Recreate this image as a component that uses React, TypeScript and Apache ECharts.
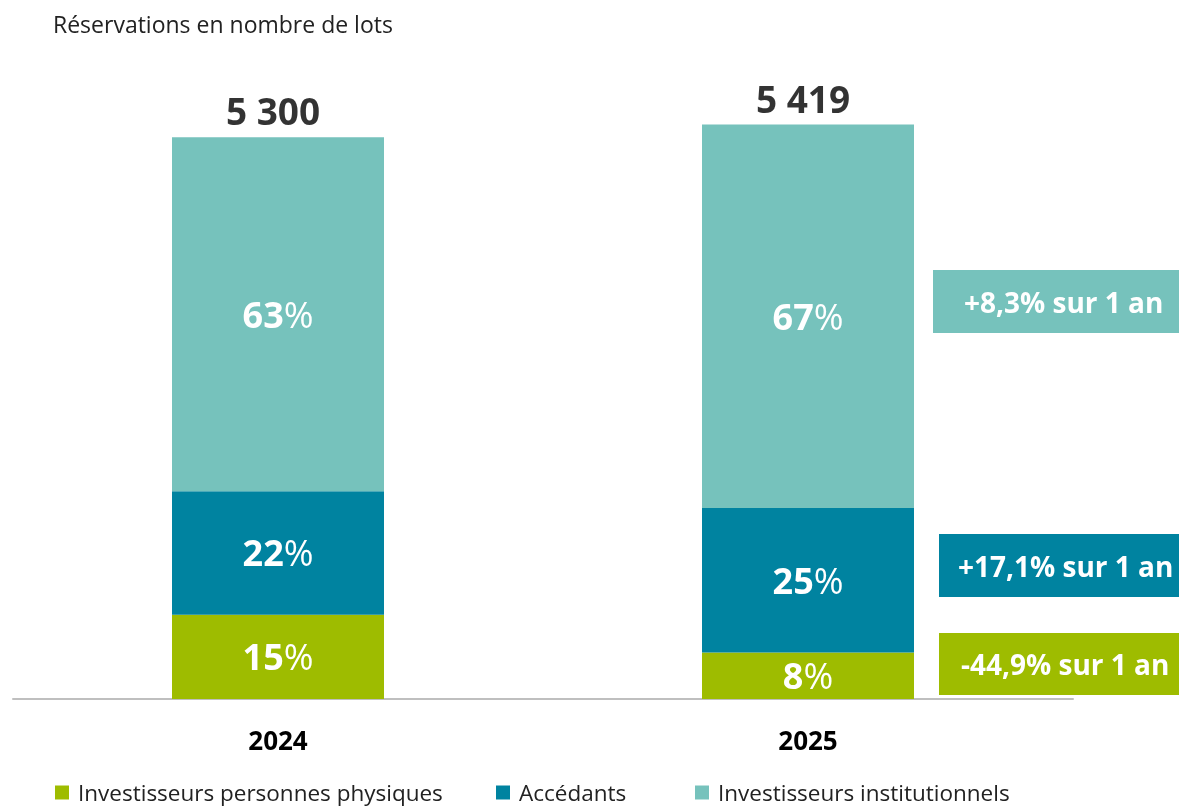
import React, { useEffect, useRef } from "react";
import * as echarts from "echarts";

const years = ["2024", "2025"];
const seriesNames = ["Investisseurs personnes physiques", "Accédants", "Investisseurs institutionnels"];
const physiques = [795, 438];
const accedants = [1166, 1365];
const institutionnels = [3339, 3616];
const colors = ["#9EBC00", "#0083A0", "#76C2BC"];

const FONT = "'Open Sans', 'Noto Sans', sans-serif";

function fmtThousands(n: number) {
  return String(Math.round(n)).replace(/\B(?=(\d{3})+(?!\d))/g, " ");
}

export default function App() {
  const ref = useRef<HTMLDivElement>(null);
  useEffect(() => {
    document.body.style.margin = "0";
    const chart = echarts.init(ref.current!, null, { renderer: "svg" });
    const allSeries = [physiques, accedants, institutionnels];
    const totals = years.map((_, i) => allSeries.reduce((s, arr) => s + arr[i], 0));
    const changes = allSeries.map((arr) => {
      const c = (arr[1] / arr[0] - 1) * 100;
      return (c >= 0 ? "+" : "") + c.toFixed(1).replace(".", ",") + "% sur 1 an";
    });

    const barSeries = allSeries.map((arr, k) => ({
      name: seriesNames[k],
      type: "bar",
      stack: "total",
      barWidth: "40%",
      data: arr,
      itemStyle: { color: colors[k] },
      label: {
        show: true,
        position: "inside",
        formatter: (p: any) => {
          const pct = Math.round((p.value / totals[p.dataIndex]) * 100);
          return `{b|${pct}}{n|%}`;
        },
        rich: {
          b: { fontFamily: FONT, fontWeight: "bold", fontSize: 36, color: "#fff" },
          n: { fontFamily: FONT, fontWeight: "normal", fontSize: 36, color: "#fff" },
        },
      },
    }));

    const callouts = [
      { k: 2, x: 933, y: 270, h: 63, tx: 964 },
      { k: 1, x: 939, y: 534, h: 63, tx: 958 },
      { k: 0, x: 939, y: 633, h: 62, tx: 961 },
    ];

    const graphic: any[] = [];
    callouts.forEach((c) => {
      graphic.push({
        type: "rect",
        shape: { x: c.x, y: c.y, width: 1179 - c.x, height: c.h },
        style: { fill: colors[c.k] },
      });
      graphic.push({
        type: "text",
        x: c.tx,
        y: c.y + c.h / 2,
        style: {
          text: changes[c.k],
          fill: "#fff",
          font: `bold 28px ${FONT}`,
          verticalAlign: "middle",
          align: "left",
        },
      });
    });

    const legendLefts = [55, 496, 695];

    chart.setOption({
      animation: false,
      textStyle: { fontFamily: FONT },
      title: {
        text: "Réservations en nombre de lots",
        left: 48,
        top: 7,
        textStyle: { fontFamily: FONT, fontSize: 23, fontWeight: "normal", color: "#222" },
      },
      grid: { left: 13, right: 106, top: 63, bottom: 110 },
      xAxis: {
        type: "category",
        data: years,
        axisLine: { lineStyle: { color: "#BFBFBF", width: 2 } },
        axisTick: { show: false },
        axisLabel: { fontFamily: FONT, fontWeight: "bold", fontSize: 26, color: "#000", margin: 28 },
      },
      yAxis: { type: "value", min: 0, max: 6000, show: false, splitLine: { show: false } },
      legend: legendLefts.map((l, i) => ({
        data: [seriesNames[i]],
        left: l,
        top: 781,
        icon: "rect",
        itemWidth: 14,
        itemHeight: 14,
        padding: 0,
        textStyle: { fontFamily: FONT, fontSize: 22.5, color: "#222", padding: [0, 0, 0, 4] },
      })),
      series: [
        ...barSeries,
        {
          type: "scatter",
          data: totals,
          symbolSize: 0,
          silent: true,
          z: 10,
          label: {
            show: true,
            position: "top",
            distance: 8,
            offset: [-5, 0],
            formatter: (p: any) => fmtThousands(p.value),
            fontFamily: FONT,
            fontWeight: "bold",
            fontSize: 37,
            color: "#000",
          },
        },
      ],
      graphic,
    });
    return () => chart.dispose();
  }, []);
  return <div ref={ref} style={{ position: "fixed", left: 0, top: 0, width: 1179, height: 809 }} />;
}
